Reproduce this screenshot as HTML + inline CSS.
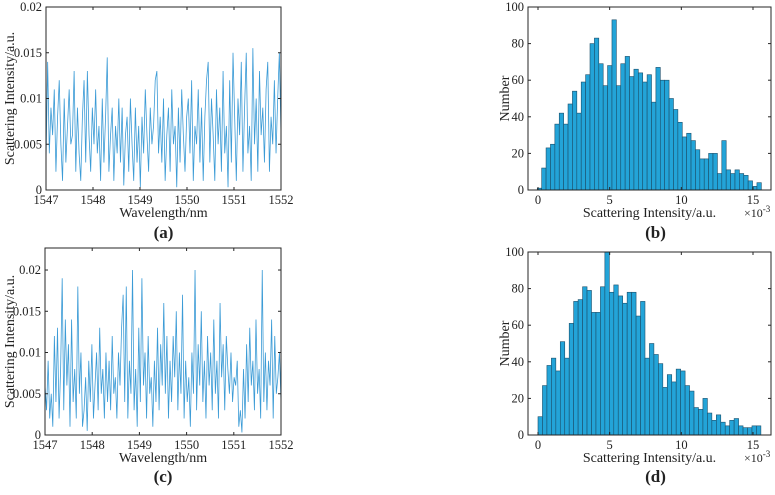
<!DOCTYPE html>
<html><head><meta charset="utf-8"><style>
body{margin:0;background:#fff;}
svg{display:block;font-family:"Liberation Serif",serif;}
</style></head><body>
<svg id="fig" width="775" height="495" viewBox="0 0 775 495"></svg>
<script>
const seriesA=[3,14,4,9,6,11,2,8,12,5,1,10,3,7,11,5,6,13,2,9,4,1,8,12,3,13,6,2,9,5,11,4,7,1,10,3,8,14.5,2,6,9,1,7,4,10,3,9,0.5,6,8,2,10,5,1,9,3,7,0.3,8,4,11,6,2,9,5,7,12,13,4,8,3,10,1,6,9,2,11,5,7,0.3,9,3,11,6,2,8,10,4,12,1,7,5,11,3,9,1,8,12,14,3,10,6,1,11,5,9,2,13,4,7,0.3,12,3,15,8,1,10,6,14,2,9,15,4,7,1,15.5,5,10,2,13,6,9,3,11,14,2,8,5,12,4,10,15,6];
const seriesC=[6,3,9,2,5,1,12,4,13,2,8,19,3,14,6,11,1,14,4,8,2,18,5,10,1,3,7,0.5,9,4,11,2,6,10,3,13,5,8,2,10,4,9,3,12,5,7,2,10,6,13,17,4,18,2,9,5,20,3,8,1,13,4,19,6,10,2,12,5,7,1,9,4,13,3,11,6,16,5,12,2,9,4,12,7,15,3,10,5,17,2,9,4,7,1,10,5,20,3,11,6,15,4,9,2,12,6,10,3,14,5,9,2,16,7,11,3,12,8,5,10,4,7,6,9,1,3,0.3,8,2,11,4,13,6,9,3,14,5,8,2,20,4,10,3,9,6,14,2,12,5,7,10,4];
const countsB=[1,12,23,25,36,42,36,47,54,42,59,63,80,83,69,57,68,93,57,69,73,62,66,64,59,63,48,67,60,60,50,44,37,29,31,27,22,17,17,20,20,9,27,11,9,11,9,8,5,2,4];
const countsD=[10,27,38,42,35,51,42,61,73,74,81,79,67,67,81,100,78,82,76,72,78,78,65,73,42,50,44,39,26,33,29,36,35,27,24,15,14,20,12,8,11,7,5,8,9,5,4,4,5,5];
const wlTicks=[1547,1548,1549,1550,1551,1552];
const yTicksA=[0,0.005,0.01,0.015,0.02];
const yTicksC=[0,0.005,0.01,0.015,0.02];
const histXTicks=[0,5,10,15];
const histYTicks=[0,20,40,60,80,100];

const NS="http://www.w3.org/2000/svg";
const svg=document.getElementById('fig');
function mk(tag,attrs,parent){const e=document.createElementNS(NS,tag);for(const k in attrs)e.setAttribute(k,attrs[k]);(parent||svg).appendChild(e);return e;}
function txt(s,x,y,size,anchor,parent,rot){const t=mk('text',{x:x,y:y,'font-size':size,'text-anchor':anchor||'middle',fill:'#222'},parent);if(rot)t.setAttribute('transform','rotate(-90 '+x+' '+y+')');t.textContent=s;return t;}
function lin(d0,d1,p0,p1){return v=>p0+(v-d0)/(d1-d0)*(p1-p0);}

function axesFrame(g,L,T,R,B,xs,ys,xt,yt,xfmt,yfmt){
  mk('rect',{x:L,y:T,width:R-L,height:B-T,fill:'none',stroke:'#262626','stroke-width':1},g);
  xt.forEach(v=>{const x=xs(v);mk('line',{x1:x,y1:B,x2:x,y2:B-3,stroke:'#262626'},g);mk('line',{x1:x,y1:T,x2:x,y2:T+3,stroke:'#262626'},g);
    const t=txt(xfmt(v),x,B+14,12.5,'middle',g);});
  yt.forEach(v=>{const y=ys(v);mk('line',{x1:L,y1:y,x2:L+3,y2:y,stroke:'#262626'},g);mk('line',{x1:R,y1:y,x2:R-3,y2:y,stroke:'#262626'},g);
    const t=txt(yfmt(v),L-4,y+4,12.5,'end',g);});
}

function linePlot(name,data,L,T,R,B,ymax,yt,label,ly){
  const g=mk('g',{});
  
  
  const xs=lin(1547,1552,L,R), ys=lin(0,ymax,B,T);
  const n=data.length;
  const pts=data.map((v,i)=>xs(1547+5*i/(n-1)).toFixed(2)+','+ys(v/1000).toFixed(2)).join(' ');
  const pl=mk('polyline',{points:pts,fill:'none',stroke:'#3b9bd6','stroke-width':0.8},g);
  
  
  axesFrame(g,L,T,R,B,xs,ys,wlTicks,yt,v=>String(v),v=>String(v));
  const xl=txt('Wavelength/nm',(L+R)/2,B+27,14,'middle',g);
  
  
  const yl=txt('Scattering Intensity/a.u.',14,(T+B)/2,14,'middle',g,true);
  
  
  const pl2=txt(label,(L+R)/2,ly,17,'middle',g);
  pl2.setAttribute('font-weight','bold');
  
  
}

function histPlot(name,counts,L,T,R,B,x0,bw,label,ly){
  const g=mk('g',{});
  
  
  const xs=lin(0,15,538,753), ys=lin(0,100,B,T);
  counts.forEach((c,i)=>{
    const xa=xs(x0+i*bw), xb=xs(x0+(i+1)*bw);
    const r=mk('rect',{x:xa,y:ys(c),width:xb-xa,height:ys(0)-ys(c),fill:'#23a4d8',stroke:'#1b4f6b','stroke-width':0.6},g);
    
    
  });
  axesFrame(g,L,T,R,B,xs,ys,histXTicks,histYTicks,v=>String(v),v=>String(v));
  const xl=txt('Scattering Intensity/a.u.',(L+R)/2,B+27,14,'middle',g);
  
  
  const ex=mk('text',{x:744,y:B+27,'font-size':12,fill:'#222'},g);
  ex.innerHTML='×10<tspan dy="-5" font-size="9">-3</tspan>';
  
  
  const yl=txt('Number',509,(T+B)/2,14,'middle',g,true);
  
  
  const pl2=txt(label,(L+R)/2+6,ly,17,'middle',g);
  pl2.setAttribute('font-weight','bold');
  
  
}

linePlot('plot-a',seriesA,46,7,281,190,0.02,yTicksA,'(a)',238);
histPlot('plot-b',countsB,528,7,771,190,-0.05,0.3065,'(b)',238);
linePlot('plot-c',seriesC,45,248,281,435,0.02267,yTicksC,'(c)',482);
histPlot('plot-d',countsD,528,252,771,435,0.0,0.311,'(d)',482);
</script>
</body></html>
